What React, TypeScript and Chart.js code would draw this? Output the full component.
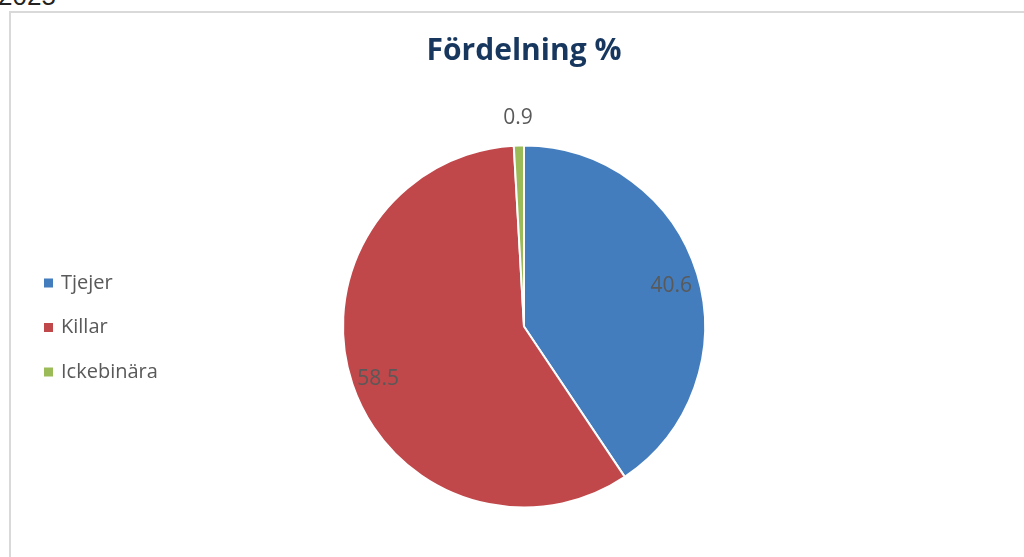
import React, { useEffect, useRef } from "react";
import { Chart, registerables } from "chart.js";

Chart.register(...registerables);

const categories: string[] = ["Tjejer", "Killar", "Ickebinära"];
const values: number[] = [40.6, 58.5, 0.9];
const valueLabels: string[] = ["40.6", "58.5", "0.9"];
const colors: string[] = ["#437DBE", "#C0474A", "#9BBB59"];
const titleText = "Fördelning %";
const yearText = "2025";

const FONT = "'Open Sans', 'Liberation Sans', sans-serif";

const dataLabelPlugin = {
  id: "dataLabelPlugin",
  afterDatasetsDraw(chart: any) {
    const ctx = chart.ctx;
    const meta = chart.getDatasetMeta(0);
    const ds = chart.data.datasets[0];
    ctx.save();
    ctx.font = `21px ${FONT}`;
    ctx.fillStyle = "#595959";
    ctx.textAlign = "center";
    ctx.textBaseline = "middle";
    meta.data.forEach((arc: any, i: number) => {
      const p = arc.getProps(["x", "y", "startAngle", "endAngle", "outerRadius"], true);
      const mid = (p.startAngle + p.endAngle) / 2;
      const v = ds.data[i] as number;
      const r = v < 5 ? p.outerRadius + 28 : p.outerRadius * 0.85;
      const x = p.x + Math.cos(mid) * r;
      const y = p.y + Math.sin(mid) * r + (v < 5 ? 0 : 4);
      ctx.fillText(valueLabels[i], x, y);
    });
    ctx.restore();
  },
};

const legendPlugin = {
  id: "customLegend",
  afterDraw(chart: any) {
    const ctx = chart.ctx;
    ctx.save();
    ctx.font = `20px ${FONT}`;
    ctx.textBaseline = "middle";
    ctx.textAlign = "left";
    const startY = 283;
    const gap = 44.5;
    chart.data.labels.forEach((lab: string, i: number) => {
      const y = startY + i * gap;
      ctx.fillStyle = colors[i];
      ctx.fillRect(44, y - 4.5, 9, 9);
      ctx.fillStyle = "#595959";
      ctx.fillText(lab, 61, y);
    });
    ctx.restore();
  },
};

export default function App() {
  const ref = useRef<HTMLCanvasElement | null>(null);
  useEffect(() => {
    if (!ref.current) return;
    const chart = new Chart(ref.current, {
      type: "pie",
      data: {
        labels: categories,
        datasets: [
          {
            data: values,
            backgroundColor: colors,
            borderColor: "#ffffff",
            borderWidth: 2,
            clip: false as any,
          },
        ],
      },
      options: {
        responsive: false,
        animation: false,
        radius: 181,
        layout: { padding: { left: 24, right: 0, top: 0, bottom: 0 } },
        plugins: {
          legend: { display: false },
          tooltip: { enabled: false },
          title: {
            display: true,
            text: titleText,
            color: "#17375E",
            font: { family: FONT, size: 30, weight: "bold" },
            padding: { top: 33, bottom: 27 },
          },
        },
      } as any,
      plugins: [dataLabelPlugin, legendPlugin],
    });
    return () => chart.destroy();
  }, []);

  return (
    <div
      style={{
        position: "fixed",
        left: 0,
        top: 0,
        width: 1024,
        height: 557,
        overflow: "hidden",
        background: "#ffffff",
      }}
    >
      <div
        style={{
          position: "absolute",
          left: -2,
          top: -17,
          fontFamily: "'Liberation Sans', sans-serif",
          fontSize: 26,
          lineHeight: "26px",
          color: "#222222",
        }}
      >
        {yearText}
      </div>
      <div
        style={{
          position: "absolute",
          left: 9,
          top: 11,
          width: 1100,
          height: 700,
          border: "2px solid #D9D9D9",
          boxSizing: "border-box",
        }}
      />
      <canvas
        ref={ref}
        width={1024}
        height={557}
        style={{ position: "absolute", left: 0, top: 0, display: "block" }}
      />
    </div>
  );
}
